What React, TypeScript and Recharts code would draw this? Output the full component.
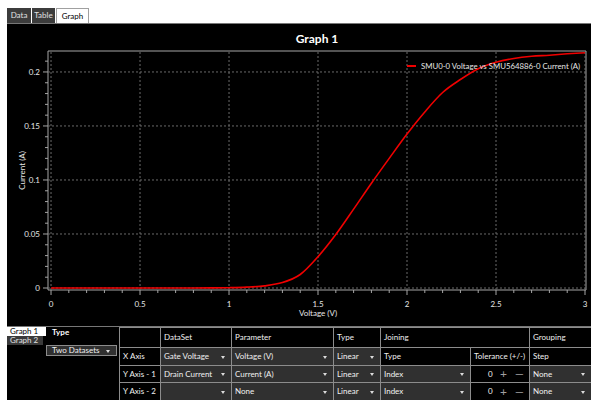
import React from "react";
import { LineChart, Line, XAxis, YAxis, ReferenceLine, ReferenceArea, Legend, Label } from "recharts";

const FONT = "Lato, 'Open Sans', sans-serif";
const RED = "#f00000";
const AXIS = "#a6a6a6";
const GRID = "#6a6a6a";

// measured curve: gate voltage (V) vs drain current (A)
const voltage = [0, 0.1, 0.2, 0.3, 0.4, 0.5, 0.6, 0.7, 0.8, 0.9, 1.0, 1.1, 1.2, 1.3, 1.4, 1.5, 1.6, 1.7, 1.8, 1.9, 2.0, 2.1, 2.2, 2.3, 2.4, 2.5, 2.6, 2.7, 2.8, 2.9, 3.0];
const current = [0, 0, 0, 0, 0, 0, 0, 0, 0, 0.0001, 0.0003, 0.0008, 0.002, 0.005, 0.0125, 0.029, 0.0495, 0.073, 0.097, 0.12, 0.1425, 0.163, 0.181, 0.193, 0.203, 0.209, 0.2125, 0.2145, 0.2155, 0.2168, 0.2178];

const xMajorTicks = [0, 0.5, 1, 1.5, 2, 2.5, 3];
const xTickLabels = ["0", "0.5", "1", "1.5", "2", "2.5", "3"];
const xMinorTicks = [0, 0.1, 0.2, 0.3, 0.4, 0.5, 0.6, 0.7, 0.8, 0.9, 1, 1.1, 1.2, 1.3, 1.4, 1.5, 1.6, 1.7, 1.8, 1.9, 2, 2.1, 2.2, 2.3, 2.4, 2.5, 2.6, 2.7, 2.8, 2.9, 3];
const yMajorTicks = [0, 0.05, 0.1, 0.15, 0.2];
const yTickLabels = ["0", "0.05", "0.1", "0.15", "0.2"];
const yMinorTicks = [0, 0.01, 0.02, 0.03, 0.04, 0.05, 0.06, 0.07, 0.08, 0.09, 0.1, 0.11, 0.12, 0.13, 0.14, 0.15, 0.16, 0.17, 0.18, 0.19, 0.2, 0.21];

const xDomain = [-0.017, 3.0056];
const yDomain = [-0.00185, 0.2194];

const seriesName = "SMU0-0 Voltage vs SMU564886-0 Current (A)";

// settings panel content
const topTabs = ["Data", "Table", "Graph"];
const graphTabs = ["Graph 1", "Graph 2"];
const headers = ["DataSet", "Parameter", "Type", "Joining", "Grouping"];
const rowLabels = ["X Axis", "Y Axis - 1", "Y Axis - 2"];
const dataSets = ["Gate Voltage", "Drain Current", ""];
const parameters = ["Voltage (V)", "Current (A)", "None"];
const axisTypes = ["Linear", "Linear", "Linear"];
const joiningHeads = ["Type", "Tolerance (+/-)", "Step"];
const joinTypes = ["Index", "Index"];
const tolerances = [0, 0];
const groupings = ["None", "None"];

const data = voltage.map((v, i) => ({ v, i: current[i] }));

const XTick = (props: any) => {
  const { x, y, payload } = props;
  const k = xMajorTicks.indexOf(payload.value);
  return (
    <g>
      <line x1={x} x2={x} y1={y} y2={y + (k >= 0 ? 5 : 3)} stroke={AXIS} />
      {k >= 0 && (
        <text x={x} y={y + 14} textAnchor="middle" dominantBaseline="central" fill="#e6e6e6" fontSize={8} fontFamily={FONT}>
          {xTickLabels[k]}
        </text>
      )}
    </g>
  );
};

const YTick = (props: any) => {
  const { x, y, payload } = props;
  const k = yMajorTicks.indexOf(payload.value);
  return (
    <g>
      <line x1={x - (k >= 0 ? 5 : 3)} x2={x} y1={y} y2={y} stroke={AXIS} />
      {k >= 0 && (
        <text x={x - 8} y={y} textAnchor="end" dominantBaseline="central" fill="#e6e6e6" fontSize={8} fontFamily={FONT}>
          {yTickLabels[k]}
        </text>
      )}
    </g>
  );
};

const renderLegend = () => (
  <div style={{ display: "flex", alignItems: "center", fontFamily: FONT, fontSize: 7.8, color: "#e6e6e6", lineHeight: "10px", whiteSpace: "nowrap" }}>
    <span style={{ display: "inline-block", width: 9, height: 2, background: RED, marginRight: 5 }} />
    <span>{seriesName}</span>
  </div>
);

const Arrow = () => (
  <span style={{ position: "absolute", right: 6, top: "50%", marginTop: -1, width: 0, height: 0, borderLeft: "2.5px solid transparent", borderRight: "2.5px solid transparent", borderTop: "3px solid #dcdcdc" }} />
);

type CellProps = { x0: number; x1: number; y0: number; y1: number; kind: "head" | "drop" | "tol"; text?: string; value?: number };

const Cell = ({ x0, x1, y0, y1, kind, text, value }: CellProps) => (
  <div
    style={{
      position: "absolute",
      left: x0,
      top: y0,
      width: x1 - x0,
      height: y1 - y0,
      boxSizing: "border-box",
      borderLeft: "1px solid #8c8c8c",
      borderTop: "1px solid #8c8c8c",
      background: kind === "drop" ? "#303030" : "#000",
      color: "#f0f0f0",
      fontSize: 8,
      lineHeight: `${y1 - y0 - 1}px`,
      paddingLeft: 3,
      whiteSpace: "nowrap",
      overflow: "hidden",
    }}
  >
    {kind !== "tol" && text}
    {kind === "drop" && <Arrow />}
    {kind === "tol" && (
      <>
        <span style={{ position: "absolute", left: 17, width: 4, textAlign: "right" }}>{value}</span>
        <span style={{ position: "absolute", left: 29, color: "#a0a0a0", fontSize: 12 }}>+</span>
        <span style={{ position: "absolute", left: 44, color: "#a0a0a0", fontSize: 11 }}>—</span>
      </>
    )}
  </div>
);

const C = [119, 160, 231, 333, 380, 470, 529, 591];
const R = [327, 347, 365, 382, 400];

export default function App() {
  return (
    <div style={{ position: "absolute", left: 0, top: 0, width: 591, height: 400, background: "#fff", overflow: "hidden", fontFamily: FONT }}>
      {topTabs.map((t, i) => {
        const sel = i === 2;
        const lefts = [7, 32, 56];
        const widths = [24, 23, 33];
        return (
          <div
            key={t}
            style={{
              position: "absolute",
              left: lefts[i],
              top: 8,
              width: widths[i],
              height: 15,
              boxSizing: "border-box",
              background: sel ? "#fff" : "#3c3c3c",
              border: sel ? "1px solid #a0a0a0" : "none",
              borderBottom: "none",
              color: sel ? "#000" : "#e0e0e0",
              fontSize: 8,
              lineHeight: "15px",
              textAlign: "center",
            }}
          >
            {t}
          </div>
        );
      })}

      <div style={{ position: "absolute", left: 7, top: 23, width: 584, height: 377, background: "#000", borderTop: "1px solid #777", boxSizing: "border-box" }} />

      <div style={{ position: "absolute", left: 48, top: 31, width: 538, textAlign: "center", color: "#fff", fontWeight: 700, fontSize: 12, lineHeight: "16px" }}>Graph 1</div>

      <div style={{ position: "absolute", left: 7, top: 23 }}>
        <LineChart width={584} height={302} data={data} margin={{ top: 28, right: 5, left: 0, bottom: 0 }}>
          <XAxis
            dataKey="v"
            type="number"
            domain={xDomain}
            allowDataOverflow
            ticks={xMinorTicks}
            interval={0}
            tickSize={0}
            tickMargin={0}
            tickLine={false}
            axisLine={false}
            tick={(p: any) => <XTick {...p} />}
            height={35}
          >
            <Label
              content={(p: any) => (
                <text x={p.viewBox.x + p.viewBox.width / 2 + 1} y={p.viewBox.y + 23} textAnchor="middle" dominantBaseline="central" fill="#e6e6e6" fontSize={8} fontFamily={FONT}>
                  Voltage (V)
                </text>
              )}
            />
          </XAxis>
          <YAxis
            type="number"
            domain={yDomain}
            allowDataOverflow
            ticks={yMinorTicks}
            interval={0}
            tickSize={0}
            tickMargin={0}
            tickLine={false}
            axisLine={false}
            tick={(p: any) => <YTick {...p} />}
            width={41}
          >
            <Label
              content={(p: any) => {
                const cx = 15;
                const cy = p.viewBox.y + p.viewBox.height / 2;
                return (
                  <text x={cx} y={cy} transform={`rotate(-90 ${cx} ${cy})`} textAnchor="middle" dominantBaseline="central" fill="#e6e6e6" fontSize={8} fontFamily={FONT}>
                    Current (A)
                  </text>
                );
              }}
            />
          </YAxis>
          {xMajorTicks.map((t) => (
            <ReferenceLine key={"x" + t} x={t} stroke={GRID} strokeDasharray="2 2" />
          ))}
          {yMajorTicks.map((t) => (
            <ReferenceLine key={"y" + t} y={t} stroke={GRID} strokeDasharray="2 2" />
          ))}
          <ReferenceArea x1={xDomain[0]} x2={xDomain[1]} y1={yDomain[0]} y2={yDomain[1]} fill="none" fillOpacity={0} stroke={AXIS} strokeWidth={1} />
          <Line type="monotone" dataKey="i" name={seriesName} stroke={RED} strokeWidth={1.6} dot={false} isAnimationActive={false} />
          <Legend
            content={renderLegend}
            layout="horizontal"
            verticalAlign="middle"
            align="center"
            wrapperStyle={{ position: "absolute", top: 38, left: 400, width: "auto" }}
          />
        </LineChart>
      </div>

      {/* settings panel */}
      <div style={{ position: "absolute", left: 7, top: 326, width: 584, height: 1, background: "#777" }} />
      {graphTabs.map((t, i) => (
        <div
          key={t}
          style={{
            position: "absolute",
            left: 7,
            top: 327 + i * 9,
            width: i === 0 ? 39 : 36,
            height: 9,
            background: i === 0 ? "#fff" : "#3a3a3a",
            color: i === 0 ? "#000" : "#e0e0e0",
            fontSize: 8,
            lineHeight: "9px",
            paddingLeft: 3,
            boxSizing: "border-box",
          }}
        >
          {t}
        </div>
      ))}
      <div style={{ position: "absolute", left: 52, top: 327, color: "#fff", fontWeight: 700, fontSize: 8, lineHeight: "10px" }}>Type</div>
      <div style={{ position: "absolute", left: 46, top: 345, width: 71, height: 11, boxSizing: "border-box", background: "#303030", border: "1px solid #8c8c8c", color: "#f0f0f0", fontSize: 8, lineHeight: "9px", paddingLeft: 5 }}>
        Two Datasets
        <Arrow />
      </div>

      <Cell x0={C[0]} x1={C[1]} y0={R[0]} y1={R[1]} kind="head" />
      <Cell x0={C[1]} x1={C[2]} y0={R[0]} y1={R[1]} kind="head" text={headers[0]} />
      <Cell x0={C[2]} x1={C[3]} y0={R[0]} y1={R[1]} kind="head" text={headers[1]} />
      <Cell x0={C[3]} x1={C[4]} y0={R[0]} y1={R[1]} kind="head" text={headers[2]} />
      <Cell x0={C[4]} x1={C[6]} y0={R[0]} y1={R[1]} kind="head" text={headers[3]} />
      <Cell x0={C[6]} x1={C[7]} y0={R[0]} y1={R[1]} kind="head" text={headers[4]} />

      {rowLabels.map((lab, r) => (
        <React.Fragment key={lab}>
          <Cell x0={C[0]} x1={C[1]} y0={R[r + 1]} y1={R[r + 2]} kind="head" text={lab} />
          <Cell x0={C[1]} x1={C[2]} y0={R[r + 1]} y1={R[r + 2]} kind="drop" text={dataSets[r]} />
          <Cell x0={C[2]} x1={C[3]} y0={R[r + 1]} y1={R[r + 2]} kind="drop" text={parameters[r]} />
          <Cell x0={C[3]} x1={C[4]} y0={R[r + 1]} y1={R[r + 2]} kind="drop" text={axisTypes[r]} />
          {r === 0 ? (
            <>
              <Cell x0={C[4]} x1={C[5]} y0={R[1]} y1={R[2]} kind="head" text={joiningHeads[0]} />
              <Cell x0={C[5]} x1={C[6]} y0={R[1]} y1={R[2]} kind="head" text={joiningHeads[1]} />
              <Cell x0={C[6]} x1={C[7]} y0={R[1]} y1={R[2]} kind="head" text={joiningHeads[2]} />
            </>
          ) : (
            <>
              <Cell x0={C[4]} x1={C[5]} y0={R[r + 1]} y1={R[r + 2]} kind="drop" text={joinTypes[r - 1]} />
              <Cell x0={C[5]} x1={C[6]} y0={R[r + 1]} y1={R[r + 2]} kind="tol" value={tolerances[r - 1]} />
              <Cell x0={C[6]} x1={C[7]} y0={R[r + 1]} y1={R[r + 2]} kind="drop" text={groupings[r - 1]} />
            </>
          )}
        </React.Fragment>
      ))}
    </div>
  );
}
